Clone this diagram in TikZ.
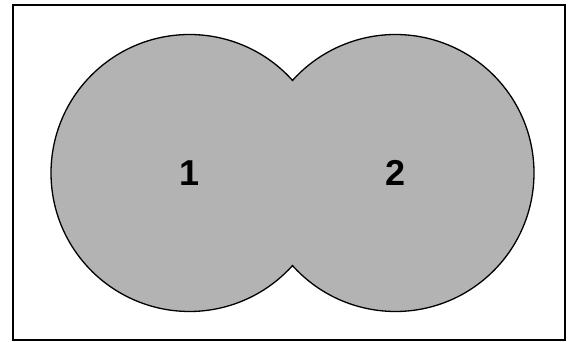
\documentclass[tikz,border=0pt]{standalone}
\usepackage{fontspec}
\setmainfont{Liberation Sans}
\definecolor{lobegray}{HTML}{B3B3B3}
\newcommand{\lobefont}{\fontsize{36pt}{40pt}\selectfont\bfseries}
\tikzset{
  lobe/.style={fill=lobegray, draw=black, line width=1.3pt},
  lobelabel/.style={font=\lobefont}
}
\begin{document}
\begin{tikzpicture}[x=1pt,y=1pt]
    \useasboundingbox (0,0) rectangle (570,342);
    \draw[line width=2pt] (13,2) rectangle (565,337);
    \coordinate (c1) at (189.5,169);
    \coordinate (c2) at (395.5,169);
    \filldraw[lobe] ([shift={(41.95:138.5)}]c1)
        arc[start angle=41.95, end angle=318.05, radius=138.5]
        arc[start angle=221.95, end angle=498.05, radius=138.5] -- cycle;
    \node[lobelabel] (one) at (c1) {1};
    \node[lobelabel] (two) at (c2) {2};
\end{tikzpicture}
\end{document}
